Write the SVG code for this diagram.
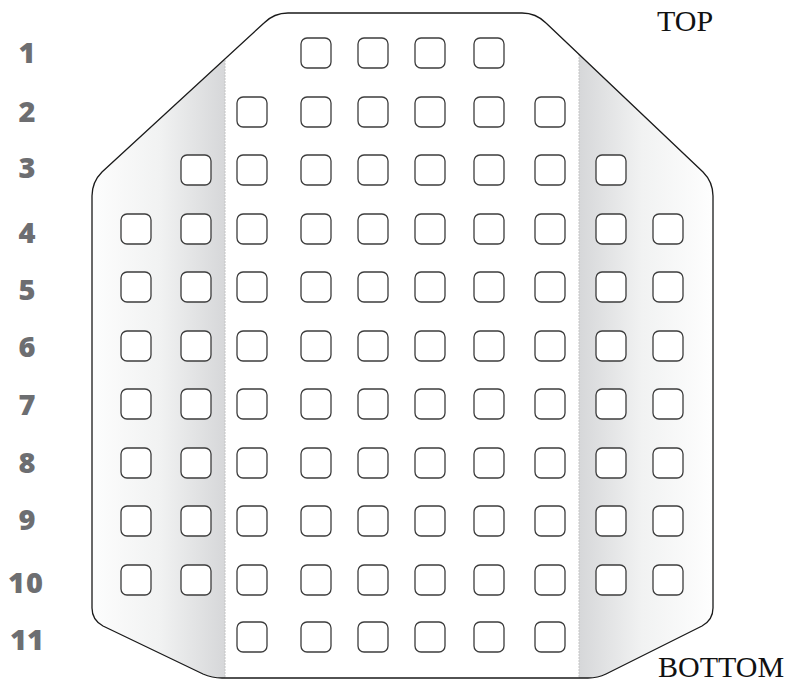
<svg xmlns="http://www.w3.org/2000/svg" xmlns:xlink="http://www.w3.org/1999/xlink" width="793" height="685" viewBox="0 0 793 685">
<style>
.sq{fill:#fff;stroke:#3c3c3c;stroke-width:1.3}
.num{font-family:"Open Sans","DejaVu Sans",sans-serif;font-weight:800;font-size:29px;fill:#6d6e71;text-anchor:middle}
.lbl{font-family:"Liberation Serif","Times New Roman",serif;font-size:30px;fill:#111}
.outline{fill:none;stroke:#1a1a1a;stroke-width:1.3}
.sep{stroke:#c4c4c4;stroke-width:1;stroke-dasharray:2 1}
</style>
<defs>
<path id="shape" d="M288,13 L522,13 Q536,13 546,23 L703,172 Q713,182 713,196 L713,608 Q713,620 702,626 L606,674 Q598,678 588,678 L222,678 Q212,678 203,674 L103,626 Q92,620 92,608 L92,196 Q92,182 102,172 L264,23 Q274,13 288,13 Z"/>
<clipPath id="clip"><use xlink:href="#shape"/></clipPath>
<linearGradient id="gl" x1="0" x2="1" y1="0" y2="0">
<stop offset="0" stop-color="#ffffff"/>
<stop offset="0.55" stop-color="#f1f2f2"/>
<stop offset="1" stop-color="#d6d7d9"/>
</linearGradient>
<linearGradient id="gr" x1="0" x2="1" y1="0" y2="0">
<stop offset="0" stop-color="#d6d7d9"/>
<stop offset="0.45" stop-color="#f1f2f2"/>
<stop offset="1" stop-color="#ffffff"/>
</linearGradient>
<rect id="s" class="sq" width="30" height="30" rx="6" ry="6"/>
</defs>

<g id="panel">
<use xlink:href="#shape" fill="#fff"/>
<g clip-path="url(#clip)">
<rect x="80" y="0" width="145" height="685" fill="url(#gl)"/>
<rect x="579" y="0" width="140" height="685" fill="url(#gr)"/>
<line class="sep" x1="225" y1="0" x2="225" y2="685"/>
<line class="sep" x1="579" y1="0" x2="579" y2="685"/>
</g>
<use xlink:href="#shape" class="outline"/>
</g>

<g id="row1">
<use xlink:href="#s" x="301" y="38"/><use xlink:href="#s" x="358" y="38"/><use xlink:href="#s" x="415" y="38"/><use xlink:href="#s" x="474" y="38"/>
</g>
<g id="row2">
<use xlink:href="#s" x="237" y="97"/><use xlink:href="#s" x="301" y="97"/><use xlink:href="#s" x="358" y="97"/><use xlink:href="#s" x="415" y="97"/><use xlink:href="#s" x="474" y="97"/><use xlink:href="#s" x="535" y="97"/>
</g>
<g id="row3">
<use xlink:href="#s" x="181" y="155"/><use xlink:href="#s" x="237" y="155"/><use xlink:href="#s" x="301" y="155"/><use xlink:href="#s" x="358" y="155"/><use xlink:href="#s" x="415" y="155"/><use xlink:href="#s" x="474" y="155"/><use xlink:href="#s" x="535" y="155"/><use xlink:href="#s" x="596" y="155"/>
</g>
<g id="row4">
<use xlink:href="#s" x="121" y="214"/><use xlink:href="#s" x="181" y="214"/><use xlink:href="#s" x="237" y="214"/><use xlink:href="#s" x="301" y="214"/><use xlink:href="#s" x="358" y="214"/><use xlink:href="#s" x="415" y="214"/><use xlink:href="#s" x="474" y="214"/><use xlink:href="#s" x="535" y="214"/><use xlink:href="#s" x="596" y="214"/><use xlink:href="#s" x="653" y="214"/>
</g>
<g id="row5">
<use xlink:href="#s" x="121" y="272"/><use xlink:href="#s" x="181" y="272"/><use xlink:href="#s" x="237" y="272"/><use xlink:href="#s" x="301" y="272"/><use xlink:href="#s" x="358" y="272"/><use xlink:href="#s" x="415" y="272"/><use xlink:href="#s" x="474" y="272"/><use xlink:href="#s" x="535" y="272"/><use xlink:href="#s" x="596" y="272"/><use xlink:href="#s" x="653" y="272"/>
</g>
<g id="row6">
<use xlink:href="#s" x="121" y="331"/><use xlink:href="#s" x="181" y="331"/><use xlink:href="#s" x="237" y="331"/><use xlink:href="#s" x="301" y="331"/><use xlink:href="#s" x="358" y="331"/><use xlink:href="#s" x="415" y="331"/><use xlink:href="#s" x="474" y="331"/><use xlink:href="#s" x="535" y="331"/><use xlink:href="#s" x="596" y="331"/><use xlink:href="#s" x="653" y="331"/>
</g>
<g id="row7">
<use xlink:href="#s" x="121" y="389"/><use xlink:href="#s" x="181" y="389"/><use xlink:href="#s" x="237" y="389"/><use xlink:href="#s" x="301" y="389"/><use xlink:href="#s" x="358" y="389"/><use xlink:href="#s" x="415" y="389"/><use xlink:href="#s" x="474" y="389"/><use xlink:href="#s" x="535" y="389"/><use xlink:href="#s" x="596" y="389"/><use xlink:href="#s" x="653" y="389"/>
</g>
<g id="row8">
<use xlink:href="#s" x="121" y="448"/><use xlink:href="#s" x="181" y="448"/><use xlink:href="#s" x="237" y="448"/><use xlink:href="#s" x="301" y="448"/><use xlink:href="#s" x="358" y="448"/><use xlink:href="#s" x="415" y="448"/><use xlink:href="#s" x="474" y="448"/><use xlink:href="#s" x="535" y="448"/><use xlink:href="#s" x="596" y="448"/><use xlink:href="#s" x="653" y="448"/>
</g>
<g id="row9">
<use xlink:href="#s" x="121" y="506"/><use xlink:href="#s" x="181" y="506"/><use xlink:href="#s" x="237" y="506"/><use xlink:href="#s" x="301" y="506"/><use xlink:href="#s" x="358" y="506"/><use xlink:href="#s" x="415" y="506"/><use xlink:href="#s" x="474" y="506"/><use xlink:href="#s" x="535" y="506"/><use xlink:href="#s" x="596" y="506"/><use xlink:href="#s" x="653" y="506"/>
</g>
<g id="row10">
<use xlink:href="#s" x="121" y="565"/><use xlink:href="#s" x="181" y="565"/><use xlink:href="#s" x="237" y="565"/><use xlink:href="#s" x="301" y="565"/><use xlink:href="#s" x="358" y="565"/><use xlink:href="#s" x="415" y="565"/><use xlink:href="#s" x="474" y="565"/><use xlink:href="#s" x="535" y="565"/><use xlink:href="#s" x="596" y="565"/><use xlink:href="#s" x="653" y="565"/>
</g>
<g id="row11">
<use xlink:href="#s" x="237" y="622"/><use xlink:href="#s" x="301" y="622"/><use xlink:href="#s" x="358" y="622"/><use xlink:href="#s" x="415" y="622"/><use xlink:href="#s" x="474" y="622"/><use xlink:href="#s" x="535" y="622"/>
</g>

<g id="row-labels">
<text class="num" x="27" y="63">1</text>
<text class="num" x="27" y="122">2</text>
<text class="num" x="27" y="178">3</text>
<text class="num" x="27" y="243">4</text>
<text class="num" x="27" y="300">5</text>
<text class="num" x="27" y="357">6</text>
<text class="num" x="27" y="415">7</text>
<text class="num" x="27" y="473">8</text>
<text class="num" x="27" y="530">9</text>
<text class="num" x="26" y="593" letter-spacing="1">10</text>
<text class="num" x="27" y="650">11</text>
</g>

<g id="orientation">
<text class="lbl" x="657" y="31">TOP</text>
<text class="lbl" x="658" y="677">BOTTOM</text>
</g>
</svg>
